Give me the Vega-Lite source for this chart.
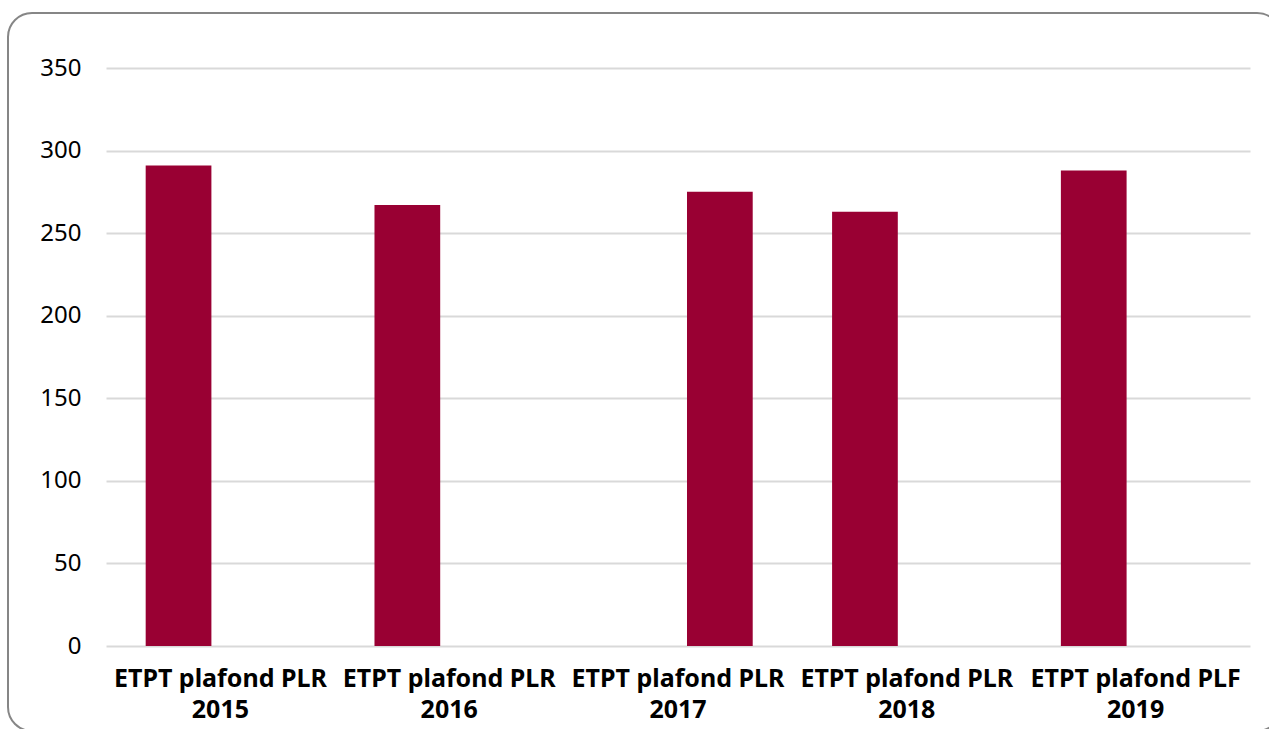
{
  "$schema": "https://vega.github.io/schema/vega-lite/v6.json",
  "width": 1273,
  "height": 718,
  "autosize": {"type": "none"},
  "padding": {"left": 8, "top": 13, "right": -12, "bottom": -2},
  "background": "#ffffff",
  "config": {
    "view": {"stroke": "#868686", "strokeWidth": 2, "cornerRadius": 24, "fill": "#ffffff"},
    "font": "Noto Sans"
  },
  "data": {
    "values": [
      {"categorie": "ETPT plafond PLR 2015", "serie": "1", "etpt": 291},
      {"categorie": "ETPT plafond PLR 2016", "serie": "1", "etpt": 267},
      {"categorie": "ETPT plafond PLR 2017", "serie": "2", "etpt": 275},
      {"categorie": "ETPT plafond PLR 2018", "serie": "1", "etpt": 263},
      {"categorie": "ETPT plafond PLF 2019", "serie": "1", "etpt": 288}
    ]
  },
  "mark": {"type": "bar", "color": "#990033"},
  "encoding": {
    "x": {
      "field": "categorie",
      "type": "nominal",
      "sort": null,
      "scale": {"range": [98, 1242], "paddingInner": 0, "paddingOuter": 0},
      "axis": {
        "title": null,
        "labelAngle": 0,
        "domain": false,
        "ticks": false,
        "offset": -85,
        "labelPadding": 20,
        "labelFont": "Noto Sans",
        "labelFontSize": 25,
        "labelFontWeight": "bold",
        "labelColor": "#000000",
        "labelLineHeight": 31,
        "labelLimit": 0,
        "labelOverlap": false,
        "labelExpr": "[substring(datum.label, 0, length(datum.label) - 5), substring(datum.label, length(datum.label) - 4)]"
      }
    },
    "xOffset": {
      "field": "serie",
      "type": "nominal",
      "scale": {"domain": ["1", "2"], "paddingInner": 0.215, "paddingOuter": 0.474}
    },
    "y": {
      "field": "etpt",
      "type": "quantitative",
      "scale": {"domain": [0, 350], "range": [633, 55], "nice": false},
      "axis": {
        "title": null,
        "values": [0, 50, 100, 150, 200, 250, 300, 350],
        "domain": false,
        "ticks": false,
        "offset": -98,
        "labelPadding": 25,
        "labelFont": "Noto Sans",
        "labelFontSize": 24,
        "labelColor": "#000000",
        "gridColor": "#d9d9d9",
        "gridWidth": 2
      }
    }
  }
}
